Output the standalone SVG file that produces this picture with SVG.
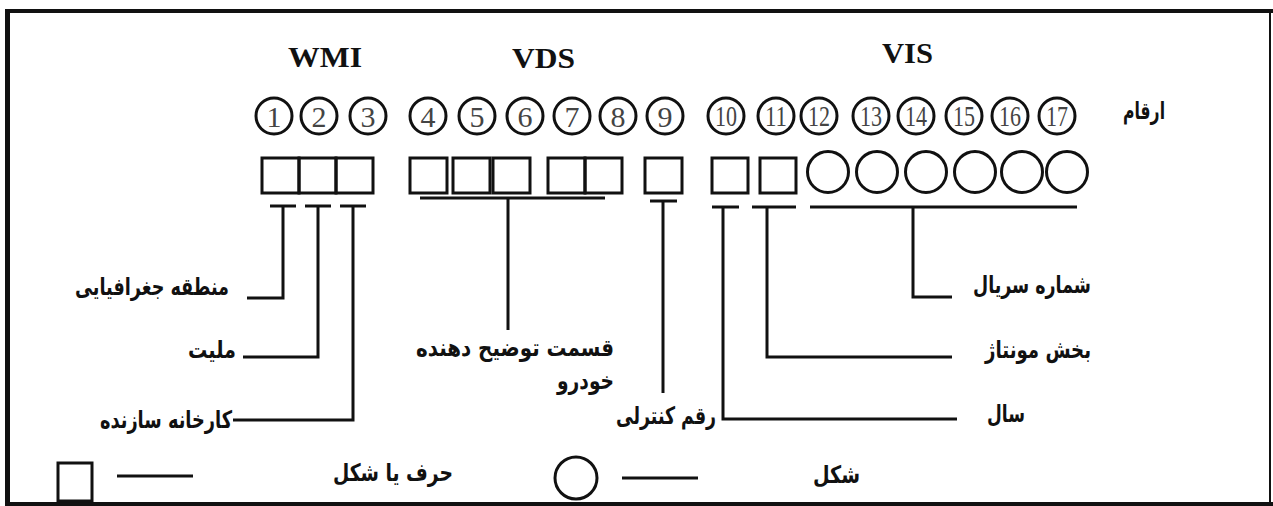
<svg xmlns="http://www.w3.org/2000/svg" width="1273" height="506" viewBox="0 0 1273 506">
<style>
.hdr{font-family:"Liberation Serif","Times New Roman",serif;font-weight:bold;font-size:29px;fill:#111}
.num{font-family:"Liberation Serif","Times New Roman",serif;font-size:30px;fill:#444;text-anchor:middle}
.num2{font-family:"Liberation Serif","Times New Roman",serif;font-size:29px;fill:#444;text-anchor:middle}
.lbl{font-family:"DejaVu Sans","Noto Sans",sans-serif;font-weight:bold;font-size:24px;fill:#111}
.ring{fill:none;stroke:#111;stroke-width:3}
.box{fill:none;stroke:#111;stroke-width:3}
.ln{fill:none;stroke:#111;stroke-width:3;stroke-linecap:butt}
</style>
<rect x="0" y="0" width="1273" height="506" fill="#fff"/>
<g id="frame" class="ln">
<line x1="5" y1="11" x2="1273" y2="11" stroke-width="4"/>
<line x1="7.5" y1="9" x2="7.5" y2="506" stroke-width="5"/>
<line x1="5" y1="504" x2="1273" y2="504" stroke-width="4"/>
<line x1="1270" y1="11" x2="1270" y2="504" stroke-width="2"/>
</g>
<g id="headers">
<text class="hdr" x="288" y="67" textLength="74" lengthAdjust="spacingAndGlyphs">WMI</text>
<text class="hdr" x="512" y="68" textLength="63" lengthAdjust="spacingAndGlyphs">VDS</text>
<text class="hdr" x="882" y="63" textLength="51" lengthAdjust="spacingAndGlyphs">VIS</text>
</g>
<g id="digits">
<g class="ring">
<circle cx="274" cy="116" r="18"/><circle cx="319" cy="116" r="18"/><circle cx="368" cy="116" r="18"/>
<circle cx="428" cy="116" r="18"/><circle cx="477" cy="116" r="18"/><circle cx="525" cy="116" r="18"/>
<circle cx="572" cy="116" r="18"/><circle cx="618" cy="116" r="18"/><circle cx="665" cy="116" r="18"/>
<circle cx="726" cy="116" r="18"/><circle cx="776" cy="116" r="18"/><circle cx="819" cy="116" r="18"/>
<circle cx="871" cy="116" r="18"/><circle cx="916" cy="116" r="18"/><circle cx="964" cy="116" r="18"/>
<circle cx="1010" cy="116" r="18"/><circle cx="1057" cy="116" r="18"/>
</g>
<text class="num" x="274" y="127">1</text><text class="num" x="319" y="127">2</text><text class="num" x="368" y="127">3</text>
<text class="num" x="428" y="127">4</text><text class="num" x="477" y="127">5</text><text class="num" x="525" y="127">6</text>
<text class="num" x="572" y="127">7</text><text class="num" x="618" y="127">8</text><text class="num" x="665" y="127">9</text>
<text class="num2" x="726" y="126" textLength="22" lengthAdjust="spacingAndGlyphs">10</text>
<text class="num2" x="776" y="126" textLength="22" lengthAdjust="spacingAndGlyphs">11</text>
<text class="num2" x="819" y="126" textLength="22" lengthAdjust="spacingAndGlyphs">12</text>
<text class="num2" x="871" y="126" textLength="22" lengthAdjust="spacingAndGlyphs">13</text>
<text class="num2" x="916" y="126" textLength="22" lengthAdjust="spacingAndGlyphs">14</text>
<text class="num2" x="964" y="126" textLength="22" lengthAdjust="spacingAndGlyphs">15</text>
<text class="num2" x="1010" y="126" textLength="22" lengthAdjust="spacingAndGlyphs">16</text>
<text class="num2" x="1057" y="126" textLength="22" lengthAdjust="spacingAndGlyphs">17</text>
<text class="lbl" x="1123" y="119" textLength="42" lengthAdjust="spacingAndGlyphs">ارقام</text>
</g>
<g id="wmi-boxes" class="box">
<rect x="262" y="158" width="37" height="35"/><rect x="299" y="158" width="37" height="35"/><rect x="336" y="158" width="37" height="35"/>
</g>
<g id="vds-boxes" class="box">
<rect x="410" y="158" width="37" height="35"/><rect x="453" y="158" width="37" height="35"/><rect x="493" y="158" width="37" height="35"/>
<rect x="548" y="158" width="37" height="35"/><rect x="585" y="158" width="37" height="35"/>
</g>
<g id="check-box" class="box"><rect x="645" y="158" width="37" height="35"/></g>
<g id="year-box" class="box"><rect x="712" y="158" width="36" height="35"/></g>
<g id="plant-box" class="box"><rect x="760" y="158" width="36" height="35"/></g>
<g id="serial-circles" class="ring">
<circle cx="828" cy="172" r="20.5"/><circle cx="877" cy="172" r="20.5"/><circle cx="926" cy="172" r="20.5"/>
<circle cx="975" cy="172" r="20.5"/><circle cx="1022" cy="172" r="20.5"/><circle cx="1067" cy="172" r="20.5"/>
</g>
<g id="connectors" class="ln">
<line x1="270" y1="206" x2="296" y2="206"/><polyline points="283,206 283,298 247,298"/>
<line x1="305" y1="206" x2="331" y2="206"/><polyline points="318,206 318,357 243,357"/>
<line x1="340" y1="206" x2="366" y2="206"/><polyline points="353,206 353,420 233,420"/>
<line x1="420" y1="198" x2="605" y2="198"/><line x1="508" y1="198" x2="508" y2="330"/>
<line x1="650" y1="201" x2="677" y2="201"/><line x1="663" y1="201" x2="663" y2="393"/>
<line x1="712" y1="207" x2="739" y2="207"/><polyline points="723,207 723,419 957,419"/>
<line x1="752" y1="207" x2="796" y2="207"/><polyline points="767,207 767,357 952,357"/>
<line x1="810" y1="207" x2="1077" y2="207"/><polyline points="913,207 913,297 952,297"/>
</g>
<g id="labels">
<text class="lbl" x="75" y="295" textLength="154" lengthAdjust="spacingAndGlyphs">منطقه جغرافیایی</text>
<text class="lbl" x="188" y="358" textLength="48" lengthAdjust="spacingAndGlyphs">ملیت</text>
<text class="lbl" x="100" y="428" textLength="132" lengthAdjust="spacingAndGlyphs">کارخانه سازنده</text>
<text class="lbl" x="416" y="356" textLength="198" lengthAdjust="spacingAndGlyphs">قسمت  توضیح  دهنده</text>
<text class="lbl" x="557" y="389" textLength="57" lengthAdjust="spacingAndGlyphs">خودرو</text>
<text class="lbl" x="616" y="424" textLength="100" lengthAdjust="spacingAndGlyphs">رقم کنترلی</text>
<text class="lbl" x="973" y="293" textLength="118" lengthAdjust="spacingAndGlyphs">شماره سریال</text>
<text class="lbl" x="985" y="358" textLength="106" lengthAdjust="spacingAndGlyphs">بخش مونتاژ</text>
<text class="lbl" x="987" y="422" textLength="38" lengthAdjust="spacingAndGlyphs">سال</text>
</g>
<g id="legend">
<rect class="box" x="58" y="463" width="34" height="38"/>
<line class="ln" x1="117" y1="476" x2="193" y2="476"/>
<text class="lbl" x="333" y="481" textLength="120" lengthAdjust="spacingAndGlyphs">حرف یا شکل</text>
<circle class="ring" cx="576" cy="478" r="21"/>
<line class="ln" x1="622" y1="478" x2="698" y2="478"/>
<text class="lbl" x="813" y="483" textLength="47" lengthAdjust="spacingAndGlyphs">شکل</text>
</g>
</svg>
